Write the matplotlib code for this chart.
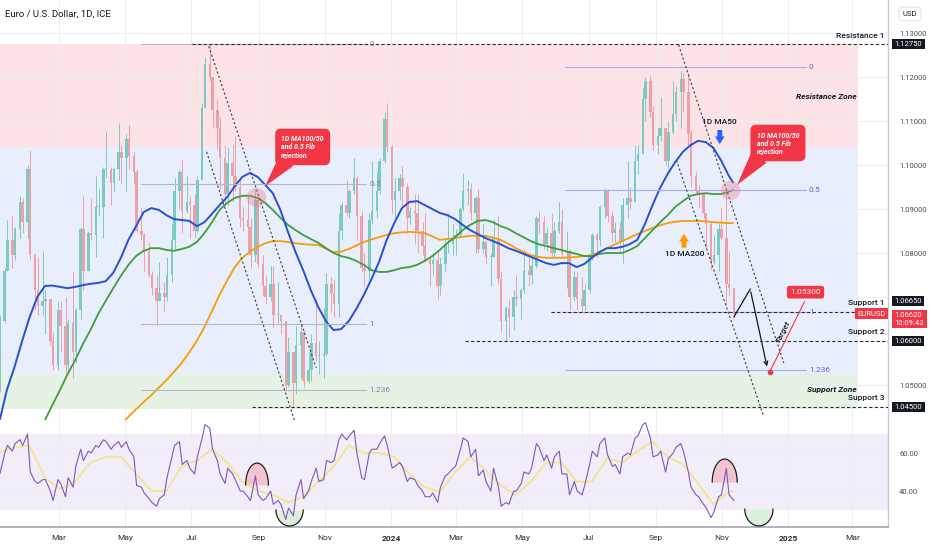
import numpy as np
import pandas as pd
import matplotlib
matplotlib.use('Agg')
import matplotlib.pyplot as plt
import matplotlib.dates as mdates
from matplotlib.patches import Polygon

plt.rcParams['font.family'] = ['Roboto', 'DejaVu Sans']

########## Data ##########

# EURUSD, two bars per week (Mon-Wed, Thu-Fri) starting week of 2 Jan 2023
first_monday = '2023-01-02'
first_open = 1.0705
closes = [
    1.0605, 1.0645, 1.0760, 1.0830, 1.0795, 1.0855, 1.0915, 1.0870, 1.0990, 1.0795,
    1.0715, 1.0680, 1.0690, 1.0695, 1.0600, 1.0545, 1.0670, 1.0635, 1.0545, 1.0640,
    1.0575, 1.0670, 1.0855, 1.0760, 1.0845, 1.0840, 1.0905, 1.0905, 1.0990, 1.0990,
    1.0960, 1.0990, 1.1030, 1.1015, 1.1060, 1.1020, 1.0985, 1.0850, 1.0840, 1.0805,
    1.0750, 1.0720, 1.0690, 1.0710, 1.0700, 1.0750, 1.0830, 1.0940, 1.0985, 1.0895,
    1.0915, 1.0910, 1.0850, 1.0965, 1.1130, 1.1230, 1.1200, 1.1125, 1.1085, 1.1015,
    1.0935, 1.1005, 1.0975, 1.0950, 1.0880, 1.0875, 1.0860, 1.0795, 1.0920, 1.0775,
    1.0725, 1.0700, 1.0730, 1.0660, 1.0660, 1.0645, 1.0500, 1.0575, 1.0505, 1.0590,
    1.0620, 1.0510, 1.0535, 1.0595, 1.0565, 1.0565, 1.0570, 1.0730, 1.0710, 1.0685,
    1.0850, 1.0910, 1.0890, 1.0940, 1.0970, 1.0885, 1.0765, 1.0760, 1.0875, 1.0895,
    1.0940, 1.1010, 1.1105, 1.1040,
    1.0920, 1.0940, 1.0970, 1.0950, 1.0880, 1.0895, 1.0890, 1.0850, 1.0815, 1.0785,
    1.0775, 1.0785, 1.0725, 1.0775, 1.0820, 1.0820, 1.0835, 1.0840, 1.0900, 1.0940,
    1.0945, 1.0890, 1.0925, 1.0810, 1.0825, 1.0790, 1.0790, 1.0835, 1.0740, 1.0645,
    1.0675, 1.0655, 1.0700, 1.0695, 1.0715, 1.0760, 1.0750, 1.0770, 1.0880, 1.0870,
    1.0820, 1.0845, 1.0800, 1.0850, 1.0870, 1.0800, 1.0805, 1.0700, 1.0745, 1.0695,
    1.0680, 1.0715, 1.0790, 1.0840, 1.0830, 1.0905, 1.0940, 1.0885, 1.0845, 1.0855,
    1.0825, 1.0910, 1.0925, 1.0915, 1.1010, 1.1025, 1.1150, 1.1190, 1.1120, 1.1045,
    1.1065, 1.1085, 1.1010, 1.1075, 1.1115, 1.1165, 1.1195, 1.1165, 1.1070, 1.0975,
    1.0940, 1.0935, 1.0890, 1.0865, 1.0780, 1.0795, 1.0855, 1.0835, 1.0730, 1.0720,
    1.0662,
]
highs = [
    1.0710, 1.0660, 1.0765, 1.0875, 1.0885, 1.0860, 1.0930, 1.0925, 1.1000, 1.1033,
    1.0800, 1.0790, 1.0805, 1.0715, 1.0695, 1.0620, 1.0690, 1.0690, 1.0700, 1.0650,
    1.0760, 1.0675, 1.0860, 1.0930, 1.0850, 1.0925, 1.0975, 1.0945, 1.0995, 1.1075,
    1.0995, 1.0995, 1.1095, 1.1045, 1.1070, 1.1092, 1.1030, 1.0990, 1.0905, 1.0845,
    1.0825, 1.0760, 1.0750, 1.0780, 1.0735, 1.0790, 1.0865, 1.0970, 1.0990, 1.1012,
    1.0975, 1.0930, 1.0935, 1.0975, 1.1140, 1.1245, 1.1276, 1.1200, 1.1150, 1.1110,
    1.1045, 1.1040, 1.1045, 1.1065, 1.0965, 1.0905, 1.0930, 1.0880, 1.0945, 1.0880,
    1.0795, 1.0750, 1.0770, 1.0770, 1.0735, 1.0660, 1.0645, 1.0610, 1.0575, 1.0635,
    1.0640, 1.0625, 1.0575, 1.0615, 1.0695, 1.0600, 1.0675, 1.0755, 1.0745, 1.0740,
    1.0890, 1.0915, 1.0965, 1.0945, 1.1017, 1.0975, 1.0895, 1.0800, 1.0890, 1.1010,
    1.0985, 1.1015, 1.1120, 1.1140,
    1.1045, 1.0970, 1.0980, 1.0998, 1.0960, 1.0905, 1.0935, 1.0935, 1.0870, 1.0890,
    1.0790, 1.0800, 1.0805, 1.0790, 1.0835, 1.0890, 1.0865, 1.0855, 1.0905, 1.0981,
    1.0965, 1.0960, 1.0930, 1.0945, 1.0865, 1.0830, 1.0800, 1.0875, 1.0885, 1.0760,
    1.0680, 1.0695, 1.0715, 1.0750, 1.0720, 1.0810, 1.0790, 1.0790, 1.0885, 1.0895,
    1.0885, 1.0860, 1.0890, 1.0870, 1.0916, 1.0900, 1.0850, 1.0810, 1.0760, 1.0760,
    1.0745, 1.0730, 1.0795, 1.0845, 1.0845, 1.0910, 1.0948, 1.0945, 1.0895, 1.0870,
    1.0870, 1.0925, 1.1008, 1.0950, 1.1045, 1.1045, 1.1175, 1.1200, 1.1202, 1.1135,
    1.1085, 1.1155, 1.1085, 1.1100, 1.1190, 1.1180, 1.1214, 1.1210, 1.1210, 1.1080,
    1.0985, 1.0955, 1.0935, 1.0890, 1.0870, 1.0840, 1.0870, 1.0905, 1.0937, 1.0805,
    1.0720,
]
lows = [
    1.0520, 1.0483, 1.0640, 1.0760, 1.0765, 1.0785, 1.0835, 1.0845, 1.0835, 1.0785,
    1.0670, 1.0660, 1.0660, 1.0615, 1.0590, 1.0535, 1.0535, 1.0575, 1.0525, 1.0530,
    1.0516, 1.0550, 1.0650, 1.0715, 1.0760, 1.0830, 1.0790, 1.0885, 1.0835, 1.0970,
    1.0910, 1.0940, 1.0965, 1.0960, 1.0940, 1.0990, 1.0960, 1.0845, 1.0830, 1.0760,
    1.0745, 1.0705, 1.0635, 1.0690, 1.0665, 1.0690, 1.0735, 1.0810, 1.0900, 1.0845,
    1.0890, 1.0835, 1.0835, 1.0845, 1.0965, 1.1130, 1.1190, 1.1085, 1.1035, 1.0945,
    1.0910, 1.0910, 1.0915, 1.0940, 1.0860, 1.0850, 1.0805, 1.0766, 1.0780, 1.0765,
    1.0705, 1.0685, 1.0690, 1.0630, 1.0640, 1.0615, 1.0490, 1.0495, 1.0448, 1.0480,
    1.0515, 1.0495, 1.0505, 1.0510, 1.0555, 1.0525, 1.0515, 1.0565, 1.0665, 1.0655,
    1.0655, 1.0830, 1.0885, 1.0880, 1.0935, 1.0830, 1.0760, 1.0724, 1.0740, 1.0865,
    1.0880, 1.0935, 1.1005, 1.1030,
    1.0890, 1.0880, 1.0920, 1.0900, 1.0845, 1.0865, 1.0820, 1.0800, 1.0795, 1.0780,
    1.0725, 1.0750, 1.0695, 1.0705, 1.0760, 1.0800, 1.0795, 1.0795, 1.0835, 1.0895,
    1.0910, 1.0875, 1.0800, 1.0800, 1.0800, 1.0775, 1.0725, 1.0790, 1.0730, 1.0620,
    1.0601, 1.0610, 1.0625, 1.0680, 1.0650, 1.0710, 1.0725, 1.0730, 1.0765, 1.0845,
    1.0810, 1.0805, 1.0790, 1.0790, 1.0845, 1.0790, 1.0720, 1.0670, 1.0690, 1.0670,
    1.0667, 1.0670, 1.0710, 1.0785, 1.0790, 1.0815, 1.0880, 1.0870, 1.0825, 1.0825,
    1.0800, 1.0777, 1.0880, 1.0900, 1.0915, 1.0980, 1.1025, 1.1100, 1.1110, 1.1035,
    1.1025, 1.1055, 1.1000, 1.0990, 1.1070, 1.1100, 1.1085, 1.1120, 1.1045, 1.0950,
    1.0935, 1.0905, 1.0880, 1.0810, 1.0761, 1.0775, 1.0760, 1.0830, 1.0682, 1.0705,
    1.0655,
]
# RSI(14) read per bar
rsi = [
    52, 49, 60, 64, 61, 65, 67, 64, 70, 50, 45, 44, 46, 46, 40, 35, 46, 44, 37, 47,
    42, 53, 62, 56, 61, 60, 64, 63, 67, 66, 62, 64, 66, 63, 66, 62, 58, 43, 42, 39,
    36, 34, 32, 36, 38, 47, 58, 64, 66, 54, 56, 52, 49, 58, 68, 75, 73, 62, 56, 49,
    44, 52, 49, 46, 40, 40, 37, 35, 48, 38, 35, 36, 40, 33, 35, 33, 25, 31, 27, 38,
    46, 36, 40, 45, 52, 45, 46, 56, 55, 56, 67, 70, 67, 69, 72, 60, 47, 46, 60, 62,
    62, 65, 69, 64, 52, 53, 55, 53, 45, 47, 46, 43, 40, 37, 37, 39, 34, 42, 48, 49,
    52, 53, 62, 68, 66, 58, 62, 48, 51, 45, 40, 52, 42, 32, 34, 33, 40, 40, 44, 50,
    49, 52, 65, 63, 56, 59, 52, 58, 61, 49, 49, 38, 45, 40, 38, 43, 54, 61, 58, 65,
    68, 59, 53, 54, 49, 58, 60, 59, 68, 69, 75, 76, 68, 58, 59, 61, 50, 57, 60, 63,
    65, 61, 50, 42, 38, 37, 33, 31, 26, 29, 37, 38, 52, 38, 35,
]

# moving averages read every 7 days from 5 Jan 2023, plus the last bar
grid_start = '2023-01-05'
last_day = '2024-11-11'
ma50 = [
    1.0416, 1.0489, 1.0541, 1.0600, 1.0655, 1.0700, 1.0725, 1.0726, 1.0723, 1.0720,
    1.0723, 1.0727, 1.0730, 1.0732, 1.0736, 1.0755, 1.0789, 1.0830, 1.0861, 1.0893,
    1.0902, 1.0898, 1.0886, 1.0877, 1.0875, 1.0873, 1.0861, 1.0870, 1.0889, 1.0909,
    1.0927, 1.0952, 1.0973, 1.0982, 1.0973, 1.0955, 1.0936, 1.0898, 1.0848, 1.0802,
    1.0761, 1.0716, 1.0677, 1.0645, 1.0625, 1.0627, 1.0645, 1.0673, 1.0705, 1.0741,
    1.0780, 1.0830, 1.0868, 1.0902, 1.0916, 1.0918, 1.0909, 1.0900, 1.0891, 1.0886,
    1.0877, 1.0864, 1.0852, 1.0843, 1.0834, 1.0827, 1.0820, 1.0811, 1.0805, 1.0798,
    1.0791, 1.0784, 1.0777, 1.0773, 1.0777, 1.0777, 1.0768, 1.0775, 1.0789, 1.0802,
    1.0811, 1.0811, 1.0814, 1.0820, 1.0830, 1.0866, 1.0909, 1.0948, 1.0980, 1.1007,
    1.1030, 1.1045, 1.1055, 1.1052, 1.1039, 1.1011, 1.0977, 1.0961,
]
ma100 = [
    1.0216, 1.0250, 1.0282, 1.0316, 1.0352, 1.0386, 1.0420, 1.0455, 1.0489, 1.0525,
    1.0557, 1.0593, 1.0625, 1.0661, 1.0691, 1.0720, 1.0748, 1.0773, 1.0793, 1.0805,
    1.0811, 1.0811, 1.0807, 1.0805, 1.0809, 1.0814, 1.0825, 1.0845, 1.0870, 1.0898,
    1.0914, 1.0925, 1.0930, 1.0930, 1.0925, 1.0914, 1.0898, 1.0880, 1.0864, 1.0852,
    1.0841, 1.0832, 1.0823, 1.0811, 1.0800, 1.0793, 1.0789, 1.0782, 1.0773, 1.0761,
    1.0757, 1.0757, 1.0761, 1.0766, 1.0768, 1.0773, 1.0782, 1.0793, 1.0807, 1.0823,
    1.0836, 1.0852, 1.0864, 1.0873, 1.0875, 1.0870, 1.0861, 1.0855, 1.0845, 1.0836,
    1.0827, 1.0820, 1.0816, 1.0811, 1.0807, 1.0802, 1.0798, 1.0793, 1.0793, 1.0798,
    1.0800, 1.0800, 1.0800, 1.0807, 1.0816, 1.0834, 1.0852, 1.0870, 1.0886, 1.0905,
    1.0918, 1.0930, 1.0934, 1.0936, 1.0934, 1.0934, 1.0939, 1.0943,
]
ma200 = [
    1.0080, 1.0095, 1.0110, 1.0127, 1.0145, 1.0162, 1.0180, 1.0197, 1.0215, 1.0235,
    1.0255, 1.0277, 1.0300, 1.0322, 1.0345, 1.0375, 1.0409, 1.0428, 1.0445, 1.0461,
    1.0477, 1.0494, 1.0511, 1.0530, 1.0550, 1.0574, 1.0600, 1.0632, 1.0668, 1.0705,
    1.0738, 1.0768, 1.0789, 1.0803, 1.0814, 1.0822, 1.0827, 1.0827, 1.0825, 1.0822,
    1.0820, 1.0819, 1.0818, 1.0810, 1.0802, 1.0803, 1.0809, 1.0817, 1.0825, 1.0831,
    1.0836, 1.0841, 1.0845, 1.0847, 1.0848, 1.0847, 1.0845, 1.0838, 1.0830, 1.0832,
    1.0834, 1.0837, 1.0839, 1.0839, 1.0839, 1.0835, 1.0830, 1.0821, 1.0811, 1.0802,
    1.0795, 1.0791, 1.0789, 1.0789, 1.0789, 1.0790, 1.0791, 1.0793, 1.0795, 1.0802,
    1.0811, 1.0819, 1.0827, 1.0835, 1.0843, 1.0850, 1.0857, 1.0863, 1.0868, 1.0871,
    1.0873, 1.0873, 1.0873, 1.0872, 1.0870, 1.0869, 1.0868, 1.0868,
]
# RSI moving average read every 14 days, plus the last bar
rsi_ma = [
    60.5, 63, 64, 47, 41, 45, 55, 58, 58, 49, 40, 40, 53, 56, 62, 55, 45, 40, 38, 34,
    37, 45, 53, 64, 60, 60, 58, 49, 42, 39.5, 50, 58, 51, 43, 38, 45, 55, 55, 45, 45,
    57, 55, 61, 66, 58, 54, 44, 33, 39.5, 40,
]

# levels and drawings
resistance_1 = 1.1275
supports = [1.0665, 1.0600, 1.0450]
support_starts = ['2024-05-27', '2024-03-09', '2023-08-26']
zone_edges = [1.1275, 1.1040, 1.0525, 1.0445]
fib_levels = [0, 0.5, 1, 1.236]
left_fib = (1.1275, 1.0639, '2023-05-16', '2023-12-09')
right_fib = (1.1223, 1.0665, '2024-06-09', '2025-01-17')
channels = [
    ('2023-07-15', 1.1030, '2023-10-04', 1.0420),
    ('2023-07-17', 1.1270, '2023-10-24', 1.0539),
    ('2024-09-22', 1.1273, '2024-12-28', 1.0550),
    ('2024-09-20', 1.1011, '2024-12-09', 1.0432),
]
projection = [('2024-11-12', 1.0655), ('2024-11-27', 1.0718), ('2024-12-13', 1.0536)]
target = ('2024-12-15', 1.0530)

month_ticks = ['2023-03-01', '2023-05-01', '2023-07-01', '2023-09-01', '2023-11-01',
               '2024-01-01', '2024-03-01', '2024-05-01', '2024-07-01', '2024-09-01',
               '2024-11-01', '2025-01-01', '2025-03-01']
month_labels = ['Mar', 'May', 'Jul', 'Sep', 'Nov', '2024', 'Mar', 'May', 'Jul', 'Sep',
                'Nov', '2025', 'Mar']
price_ticks = [1.05, 1.06, 1.07, 1.08, 1.09, 1.10, 1.11, 1.12, 1.13]
price_labels = ['1.05000', '', '', '1.08000', '1.09000', '1.10000', '1.11000', '1.12000', '1.13000']


def d(s):
    return mdates.date2num(pd.Timestamp(s))


########## Prepare ##########

weeks = pd.date_range(first_monday, periods=len(closes) // 2 + 1, freq='7D')
bar_dates = []
for w in weeks:
    bar_dates += [w + pd.Timedelta(days=1), w + pd.Timedelta(days=3.5)]
bar_dates = bar_dates[:len(closes)]
xb = mdates.date2num(bar_dates)

ma_dates = list(pd.date_range(grid_start, periods=len(ma50) - 1, freq='7D')) + [pd.Timestamp(last_day)]
rsi_ma_dates = list(pd.date_range(grid_start, periods=len(rsi_ma) - 1, freq='14D')) + [pd.Timestamp(last_day)]

o = np.array([first_open] + closes[:-1])
c = np.array(closes)
h = np.array(highs)
l = np.array(lows)

x_left, x_right = d('2023-01-05 15:00'), d('2025-04-03')
zone_end = d('2025-03-06')

########## Figure ##########

fig = plt.figure(figsize=(9.32, 5.5), dpi=100)
ax = fig.add_axes([0, 130 / 550, 888 / 932, 420 / 550])
rx = fig.add_axes([0, 23 / 550, 888 / 932, 107 / 550], sharex=ax)

grid_col = '#eceef3'
for a in (ax, rx):
    a.set_facecolor('white')
    a.set_axisbelow(True)
    a.grid(True, color=grid_col, lw=0.8)
    for s in ('top', 'left'):
        a.spines[s].set_visible(False)
    a.spines['right'].set_color('#c9ccd4')
    a.spines['right'].set_linewidth(1.0)
    a.yaxis.tick_right()
    a.tick_params(axis='both', length=0, labelsize=5.5, labelcolor='#4a4e5a')
    a.tick_params(axis='y', pad=8)

ax.spines['bottom'].set_color('#e0e3eb')
rx.spines['bottom'].set_color('#a3a6af')
rx.spines['bottom'].set_linewidth(1.2)

ax.set_xlim(x_left, x_right)
ax.set_ylim(1.04205, 1.1375)
rx.set_ylim(21.05, 77.4)

ax.set_yticks(price_ticks)
ax.set_yticklabels(price_labels)
rx.set_yticks([40, 60])
rx.set_yticklabels(['40.00', '60.00'])
rx.set_xticks([d(m) for m in month_ticks])
rx.set_xticklabels(month_labels)
rx.tick_params(axis='x', pad=6, labelsize=6, labelcolor='#2a2e39')
for lab in rx.get_xticklabels():
    if lab.get_text().isdigit():
        lab.set_fontweight('bold')
ax.tick_params(axis='x', labelbottom=False)

# zones
zone_cols = ['#fde3e5', '#e8eefc', '#e6f3e4']
for i, zc in enumerate(zone_cols):
    ax.fill_between([x_left, zone_end], zone_edges[i + 1], zone_edges[i], color=zc, lw=0, zorder=0.5)

# candles
rising = c >= o
cols = np.where(rising, '#7ccabf', '#eda0a5')
ax.vlines(xb, l, h, colors=cols, lw=0.7, zorder=2)
ax.bar(xb, np.maximum(np.abs(c - o), 0.00025), bottom=np.minimum(o, c), width=2.3,
       color=cols, lw=0, zorder=2)

# moving averages
ax.plot(ma_dates, ma200, color='#f59d0e', lw=1.3, zorder=3)
ax.plot(ma_dates, ma100, color='#3e9e3b', lw=1.3, zorder=3)
ax.plot(ma_dates, ma50, color='#2650d6', lw=1.4, zorder=3)

# fib retracements
for (top, bot, a0, a1), lcol, tcol in [(left_fib, '#b4b6c9', '#7e80b6'),
                                        (right_fib, '#a9aeef', '#5b6ad8')]:
    for lv in fib_levels:
        p = top - lv * (top - bot)
        ax.plot([d(a0), d(a1)], [p, p], color=lcol, lw=0.8, zorder=3.5)
        ax.text(d(a1) + 3, p, f'{lv:g}', color=tcol, fontsize=6, ha='left', va='center', zorder=6)

# support / resistance lines
dash = dict(color='#2a2e39', lw=0.8, ls=(0, (3, 2)), zorder=4)
ax.plot([d('2023-07-02'), x_right], [resistance_1] * 2, **dash)
for lvl, st in zip(supports, support_starts):
    ax.plot([d(st), x_right], [lvl, lvl], **dash)

ytr = ax.get_yaxis_transform()
lab_kw = dict(transform=ytr, ha='right', va='center', fontsize=6, fontweight='medium',
              color='#131722', zorder=6)
ax.text(0.9965, 1.1294, 'Resistance 1', **lab_kw)
ax.text(0.9965, 1.0686, 'Support 1', **lab_kw)
ax.text(0.9965, 1.0620, 'Support 2', **lab_kw)
ax.text(0.9965, 1.0470, 'Support 3', **lab_kw)

zone_kw = dict(ha='center', va='center', fontsize=6, fontweight='bold', fontstyle='italic',
               color='#131722', zorder=6)
ax.text(d('2025-02-05'), 1.1155, 'Resistance Zone', **zone_kw)
ax.text(d('2025-02-10'), 1.0489, 'Support Zone', **zone_kw)

# channels
for a0, p0, a1, p1 in channels:
    ax.plot([d(a0), d(a1)], [p0, p1], color='#3c3f47', lw=0.8, ls=(0, (2, 2)), zorder=4)

# rejection circles
for dt, p in [('2023-08-30', 1.0927), ('2024-11-08', 1.0943)]:
    ax.plot(d(dt), p, 'o', ms=14, mfc=(0.93, 0.45, 0.52, 0.35), mec='none', zorder=5)

# callouts
red = '#f23645'
call_txt = '1D MA100/50\nand 0.5 Fib\nrejection'
for tx, ty, poly in [
    ('2023-09-22', 1.1041, [('2023-09-19', 1.1016), ('2023-10-03', 1.0998), ('2023-09-07', 1.0952)]),
    ('2024-12-03', 1.1050, [('2024-11-29', 1.1034), ('2024-12-12', 1.1005), ('2024-11-15', 1.0955)]),
]:
    ax.add_patch(Polygon([(d(a), p) for a, p in poly], closed=True, fc=red, ec='none', zorder=6))
    ax.text(d(tx), ty, call_txt, color='white', fontsize=5, fontweight='bold', fontstyle='italic',
            ha='left', va='center', linespacing=1.25, zorder=7,
            bbox=dict(boxstyle='round,pad=0.9,rounding_size=0.8', fc=red, ec='none'))

# MA labels with arrows
ax.text(d('2024-10-30'), 1.1098, '1D MA50', fontsize=6, fontweight='medium', color='#131722',
        ha='center', va='center', zorder=6)
ax.annotate('', xy=(d('2024-10-30'), 1.1041), xytext=(d('2024-10-30'), 1.1086),
            arrowprops=dict(arrowstyle='simple,head_width=1.0,head_length=0.8,tail_width=0.5',
                            fc='#2962ff', ec='none', mutation_scale=7), zorder=6)
ax.text(d('2024-09-28'), 1.0798, '1D MA200', fontsize=6, fontweight='medium', color='#131722',
        ha='center', va='center', zorder=6)
ax.annotate('', xy=(d('2024-09-27'), 1.0850), xytext=(d('2024-09-27'), 1.0806),
            arrowprops=dict(arrowstyle='simple,head_width=1.0,head_length=0.8,tail_width=0.5',
                            fc='#ff9800', ec='none', mutation_scale=7), zorder=6)

# projection and target
px_ = [d(a) for a, _ in projection]
py_ = [p for _, p in projection]
ax.plot(px_[:2], py_[:2], color='#131722', lw=0.9, zorder=6)
ax.annotate('', xy=(px_[2], py_[2]), xytext=(px_[1], py_[1]),
            arrowprops=dict(arrowstyle='->', color='#131722', lw=0.9, mutation_scale=7), zorder=6)
ax.plot([d(target[0]), d('2025-01-16')], [target[1], 1.0689], color=red, lw=0.8, zorder=6)
ax.plot(d(target[0]), target[1], 'o', ms=3, color=red, zorder=7)
ax.text(d('2025-01-17'), 1.0711, f'{target[1]:.5f}', color='white', fontsize=6, ha='center',
        va='center', zorder=7, bbox=dict(boxstyle='round,pad=0.4,rounding_size=0.3', fc=red, ec='none'))
ax.text(d('2024-12-27'), 1.0620, 'Target', rotation=63, fontsize=6, fontstyle='italic',
        fontweight='medium', color='#131722', ha='center', va='center', zorder=7)

# price scale tags
tag_kw = dict(transform=ytr, ha='left', va='center', color='white', fontsize=5.5,
              clip_on=False, zorder=10)
for ty, tt in [(1.1275, '1.12750'), (1.0691, '1.06650'), (1.0600, '1.06000'), (1.0450, '1.04500')]:
    ax.text(1.0075, ty, tt, bbox=dict(boxstyle='square,pad=0.3', fc='#131722', ec='none'), **tag_kw)
ax.text(1.0075, 1.0650, '1.06620\n10:09:42', linespacing=1.3,
        bbox=dict(boxstyle='square,pad=0.3', fc=red, ec='none'), **tag_kw)
ax.text(0.9975, 1.0662, 'EURUSD', transform=ytr, ha='right', va='center', color='white',
        fontsize=5.5, zorder=10, bbox=dict(boxstyle='square,pad=0.3', fc=red, ec='none'))

# title and currency box
ax.text(0.006, 1 - 14 / 420, 'Euro / U.S. Dollar, 1D, ICE', transform=ax.transAxes,
        fontsize=6.8, color='#131722', ha='left', va='center', zorder=10)
fig.text(910 / 932, 1 - 14 / 550, 'USD', ha='center', va='center', fontsize=5.5, color='#131722',
         bbox=dict(boxstyle='round,pad=0.5', fc='white', ec='#e0e3eb', lw=0.8))

########## RSI pane ##########

rx.fill_between([x_left, x_right], 30, 70, color='#f1edf9', lw=0, zorder=0.5)
rx.plot(rsi_ma_dates, rsi_ma, color='#f4e48a', lw=1.3, zorder=2)
rx.plot(bar_dates, rsi, color='#7e57c2', lw=0.8, zorder=3)


def arch(x0, x1, base, peak, fill):
    t = np.linspace(0, np.pi, 40)
    xs = (d(x0) + d(x1)) / 2 + (d(x1) - d(x0)) / 2 * np.cos(t)
    ys = base + (peak - base) * np.sin(t)
    rx.fill_between(xs, base, ys, color=fill, lw=0, zorder=1.5)
    rx.plot(xs, ys, color='#1e1f24', lw=0.9, zorder=4)


arch('2023-08-20', '2023-09-10', 43.2, 54.7, '#f2c4cd')
arch('2023-09-17', '2023-10-12', 30.0, 21.6, '#dcefd9')
arch('2024-10-23', '2024-11-15', 44.7, 56.8, '#f2c4cd')
arch('2024-11-22', '2024-12-18', 30.5, 21.6, '#dcefd9')

fig.savefig('out.png', dpi=100)
